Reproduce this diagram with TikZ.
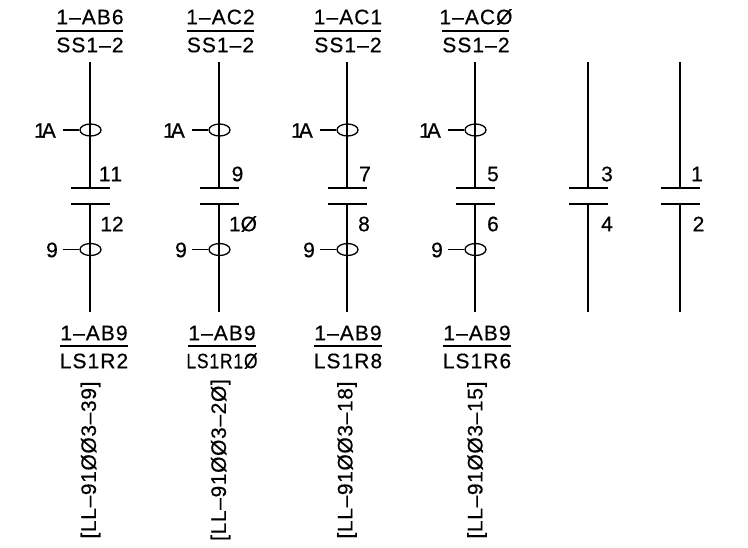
\documentclass[tikz,border=0pt]{standalone}
\usepackage{fontspec}
\setmainfont[LetterSpace=5,FakeBold=0.4]{Liberation Sans}
\newfontfamily\reffont[LetterSpace=3,FakeBold=0.4]{Liberation Sans}
\newfontfamily\numfont[FakeBold=0.4]{Liberation Sans}
\usetikzlibrary{shapes.geometric}
\tikzset{
  wire/.style={line width=1.5pt,line cap=butt},
  plate/.style={line width=1.4pt},
  rulel/.style={line width=1.3pt},
  lead/.style={line width=1.1pt},
  coil/.style={draw,ellipse,line width=1.3pt,minimum width=21pt,minimum height=12pt,inner sep=0pt},
  lab/.style={inner sep=0pt,font=\fontsize{21}{21}\selectfont},
  num/.style={inner sep=0pt,font=\fontsize{21}{21}\selectfont\numfont},
  refl/.style={inner sep=0pt,rotate=90,font=\fontsize{21}{21}\selectfont\reffont},
}
\begin{document}
\begin{tikzpicture}[x=1pt,y=-1pt]
\path[use as bounding box,fill=white] (0,0) rectangle (748,547);
\foreach \n/\x/\tx/\bx/\rx/\toplab/\botlab/\up/\lo/\upx/\lox/\refl in {
 a/90/90/94/90.5/1–AB6/LS1R2/{1\kern-6pt\ 1}/12/110.5/112/LL–91ØØ3–39,
 b/219/220.5/222/220.5/1–AC2/{\scalebox{.83}[1]{LS1R1Ø}}/9/1Ø/237.5/243/LL–91ØØ3–2Ø,
 c/347/348/348/347/1–AC1/LS1R8/7/8/365/364/LL–91ØØ3–18,
 d/475/476/477/477/1–ACØ/LS1R6/5/6/493/493/LL–91ØØ3–15}{
  \coordinate (t\n) at (\x,62);
  \coordinate (b\n) at (\x,312);
  \coordinate (pu\n) at (\x,188);
  \coordinate (pl\n) at (\x,204);
  \node[coil] (o\n) at (\x+0.5,130) {};
  \node[coil] (q\n) at (\x+0.5,249.5) {};
  \draw[wire] (t\n) -- (pu\n);
  \draw[wire] (pl\n) -- (b\n);
  \draw[plate] (\x-19,188) -- (\x+20,188);
  \draw[plate] (\x-19,204) -- (\x+20,204);
  \node[lab] (la\n) at (\x-45,130.5) {1\kern-4pt A};
  \node[lab] (lb\n) at (\x-38,250) {9};
  \coordinate (ca\n) at (\x-27,130);
  \coordinate (cb\n) at (\x-27,249.5);
  \draw[lead] (ca\n) -- (o\n);
  \draw[lead] (cb\n) -- (q\n);
  \node[num] (nu\n) at (\upx,174) {\up};
  \node[num] (nl\n) at (\lox,224) {\lo};
  \node[lab] (tt\n) at (\tx,17) {\toplab};
  \node[lab] (tb\n) at (\tx,45) {SS1–2};
  \draw[rulel] (\tx-34,31) -- (\tx+33,31);
  \node[lab] (bt\n) at (\bx,333) {1–AB9};
  \node[lab] (bb\n) at (\bx,361) {\botlab};
  \draw[rulel] (\bx-34,346) -- (\bx+34,346);
  \node[refl] (r\n) at (\rx,460) {[\refl]};
}
\foreach \n/\x/\up/\lo/\upx/\lox in {e/588/3/4/607/607,f/680/1/2/697/698.5}{
  \coordinate (t\n) at (\x,62);
  \coordinate (b\n) at (\x,312);
  \coordinate (pu\n) at (\x,188);
  \coordinate (pl\n) at (\x,204);
  \draw[wire] (t\n) -- (pu\n);
  \draw[wire] (pl\n) -- (b\n);
  \draw[plate] (\x-19,188) -- (\x+20,188);
  \draw[plate] (\x-19,204) -- (\x+20,204);
  \node[num] (nu\n) at (\upx,174) {\up};
  \node[num] (nl\n) at (\lox,224) {\lo};
}
\end{tikzpicture}
\end{document}
